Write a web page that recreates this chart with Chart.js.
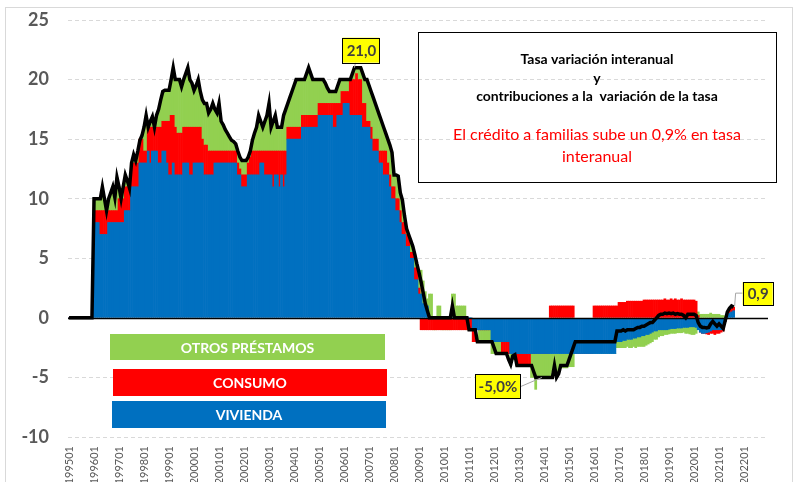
<!DOCTYPE html>
<html>
<head>
<meta charset="utf-8">
<script src="https://cdn.jsdelivr.net/npm/chart.js@4.4.1/dist/chart.umd.min.js"></script>
<style>
  html, body { margin: 0; padding: 0; background: #fff; overflow: hidden; }
  #wrap { width: 799px; height: 482px; overflow: hidden; }
</style>
</head>
<body>
<div id="wrap"><canvas id="grafico" width="799" height="495"></canvas></div>
<script>
// Categorías mensuales 199501 ... 202212
const anios = Array.from({ length: 28 }, (_, i) => 1995 + i)
const mesesNum = ['01','02','03','04','05','06','07','08','09','10','11','12']
const meses = anios.flatMap(a => mesesNum.map(m => a + m))

const yTicks = [-10, -5, 0, 5, 10, 15, 20, 25]

// Contribución vivienda (pp)
const vivienda = [
  0,0,0,0,0,0,0,0,0,0,0,0,                              // 1995
  8,8,8,7,7,7,7,8,8,8,8,8,                              // 1996
  8,8,8,9,9,9,11,11,11,11,13,13,                        // 1997
  13,13,14,13,14,14,14,13,13,14,14,13,                  // 1998
  12,12,13,12,12,12,12,13,13,13,12,12,                  // 1999
  13,13,13,13,13,12,12,12,12,12,13,13,                  // 2000
  13,13,13,13,13,13,13,13,13,12,12,11,                  // 2001
  11,11,12,12,12,12,12,12,13,13,12,12,                  // 2002
  12,12,11,12,12,11,12,11,12,15,15,15,                  // 2003
  15,15,15,15,16,16,16,16,16,16,16,16,                  // 2004
  17,17,17,17,17,17,17,16,16,17,17,17,                  // 2005
  18,18,18,17,17,17,17,17,17,16,16,16,                  // 2006
  16,15,14,14,14,13,13,12,12,12,11,10,                  // 2007
  10,9,9,8,7,7,6,6,5,5,3.2,3.2,                         // 2008
  2,2,1.2,1.2,1,0,0,0,0,0,0,0,                          // 2009
  0,0,0,0,0,0,0,0,0,0,0,0,                              // 2010
  0,0,-1,-1,-1,-1,-1,-1,-1,-1,-1,-2,                    // 2011
  -2,-2,-2,-2,-2,-2,-2,-2,-3,-3,-3,-3,                  // 2012
  -3,-3,-3,-3,-3,-3,-3,-3,-3,-3,-3,-3,                  // 2013
  -3,-3,-3,-3,-3,-3,-3,-3,-3,-3,-3,-3,                  // 2014
  -3,-3,-3,-3,-3,-3,-3,-3,-3,-3,-3,-3,                  // 2015
  -3,-3,-3,-3,-3,-3,-3,-3,-3,-3,-3,-2,                  // 2016
  -2,-2,-1.9,-1.9,-1.8,-1.8,-1.8,-1.7,-1.7,-1.6,-1.6,-1.5,          // 2017
  -1.5,-1.4,-1.4,-1.3,-1.2,-1.1,-1.1,-1.0,-1.0,-1.0,-1.0,-1.0,      // 2018
  -0.95,-0.9,-0.9,-0.9,-0.85,-0.85,-0.85,-0.8,-0.8,-0.8,-0.75,-0.75, // 2019
  -0.75,-0.8,-1.0,-1.2,-1.3,-1.3,-1.25,-1.2,-1.1,-1.0,-1.0,-1.0,    // 2020
  -1.0,-1.0,-0.9,-0.3,0.2,0.4,0.5,0.6                               // 2021
]

// Contribución consumo (pp)
const consumo = [
  0,0,0,0,0,0,0,0,0,0,0,0,                              // 1995
  1,1,1,2,2,2,2,1,1,1,1,1,                              // 1996
  2,2,2,2,2,2,2,2,2,2,2,2,                              // 1997
  1,1,2,3,2,2,2,3,3,2.5,2.5,3.5,                        // 1998
  4.5,5,4,4,3.5,3.5,3.5,3,3,3,4,4,                      // 1999
  3,3,3,3,2,2.5,2.5,2,2,2,1,1,                          // 2000
  1,1,1,1,1,1,1,1,1,1,0.5,1,                            // 2001
  1,1,1,1.5,2,2,2,2,1,1,2,2,                            // 2002
  2,2,3,2,2,3,2,3,2,1,1,1,                              // 2003
  1,1,1,1,1,1,1,1,1,1,1,1,                              // 2004
  1,1,1,1,1,1,1,2,2,1,1,2,                              // 2005
  1,1,1,3,3,3,3.5,3,3,2,2,0.5,                          // 2006
  0.5,1,1,1,1,1,1,2,2,1,1,1,                            // 2007
  1,1,1,1,1,1,1,1,0.5,0.5,1,1,                          // 2008
  0.5,-1,-1,-1,-1,-1,-1,-1,-1,-1,-1,-1,                 // 2009
  -1,-1,-1,-1,-1,-1,-1,-1,-1,-1,-1,-1,                  // 2010
  -1,-1,-1,-1,0,0,0,0,0,0,0,0,                          // 2011
  0,0,0,0,-1,-1,-1,-1,0,0,0,-1,                         // 2012
  -1,-1,-1,-1,-1,-1,0,0,0,0,0,0,                        // 2013
  0,0,0,1,1,1,1,1,1,1,1,1,                              // 2014
  1,1,1,0,0,0,0,0,0,0,0,0,                              // 2015
  1,1,1,1,1,1,1,1,1,1,1,1,                              // 2016
  1.3,1.3,1.3,1.3,1.4,1.4,1.4,1.4,1.4,1.4,1.4,1.4,      // 2017
  1.5,1.5,1.5,1.5,1.5,1.5,1.5,1.5,1.5,1.5,1.6,1.5,      // 2018
  1.5,1.6,1.5,1.6,1.5,1.5,1.6,1.5,1.5,1.5,1.5,1.5,      // 2019
  1.5,1.4,0.2,0,0,0,-0.1,-0.2,-0.2,-0.3,-0.4,-0.3,      // 2020
  -0.3,-0.2,-0.2,0,0.2,0.3,0.3,0.3                      // 2021
]

// Contribución otros préstamos (pp)
const otros = [
  0,0,0,0,0,0,0,0,0,0,0,0,                              // 1995
  1,1,1,1,2,1,0,1,1.5,2,1.1,2.8,                        // 1996
  1,0,1,1,0.5,0,0,0.7,0.2,1,0,0.3,                      // 1997
  2,3,0,0.5,0.9,0,1,1.5,2.3,2.5,2.6,2.6,                // 1998
  2.6,3,4,4,4.5,4.5,3.9,4,4.5,5,4,3.7,                  // 1999
  3.1,3.5,4,3,3.3,3.5,3.5,3.2,3.5,4,3.5,3.2,            // 2000
  4,2.5,2.2,1.8,1.5,1.2,0.9,0.8,0.6,1,1,1.2,            // 2001
  1.2,1.2,0.5,0.5,0.9,1.5,2,3,2.5,2,2.5,3,              // 2002
  4,2,2.5,3,2,2,2,3,3.5,2,2.5,3,                        // 2003
  3.5,4,4,4,3,3,3.5,4,3.5,3,3,3,                        // 2004
  2,2,2,1.7,1.3,1,1,1,1,1.5,2,1,                        // 2005
  1,1,1,0,0.5,1,0.5,1,1,2.5,2,3.5,                      // 2006
  3,3,3.5,3,2.5,3,2.5,2,1.5,2,2.5,2.9,                  // 2007
  1,2,1.9,1.5,1.9,0.6,0.5,0,1,0.5,1.1,0.3,              // 2008
  1.3,2,1.9,1,0.6,2,2,0,0,1,1,0,                        // 2009
  0,0,0,0,2,2,1,1,1,1,1,0,                              // 2010
  0,0,0,0,0,-1,-1,-1,-1,-1,-1,-1,                       // 2011
  -1,-1,-1,-1,0,0,0,0,-1,-0.5,-0.5,0,                   // 2012
  0,0,0,0,0,0,-2,-2,-3,-2,-2,-2,                        // 2013
  -1.9,-1.9,-1.9,-1.9,-1.5,-1.5,-1.5,-1.5,-1.2,-1.2,-1.2,-1.2,      // 2014
  -1.1,-1.1,-1.1,0,0,0,0,0,0,0,0,0,                     // 2015
  0,0,0,0,0,0,0,0,0,0,0,-0.5,                           // 2016
  -0.5,-0.5,-0.6,-0.6,-0.6,-0.7,-0.7,-0.7,-0.8,-0.8,-0.8,-0.9,      // 2017
  -0.9,-0.9,-0.8,-0.8,-0.8,-0.7,-0.7,-0.6,-0.5,-0.5,-0.4,-0.4,      // 2018
  -0.4,-0.4,-0.4,-0.4,-0.4,-0.4,-0.4,-0.4,-0.5,-0.5,-0.6,-0.65,     // 2019
  -0.65,-0.5,0.3,0.3,0.3,0.3,0.3,0.3,0.4,0.3,0.3,0.3,   // 2020
  0.3,0.2,0.2,0.1,0,0,0,0                               // 2021
]

// Tasa de variación interanual total (%)
const total = [
  0,0,0,0,0,0,0,0,0,0,0,0,                                        // 1995
  10,10,10,10,11,10,9,10,10.5,11,10.1,11.8,                       // 1996
  11,10,11,12,11.5,10.9,13,13.7,13.2,14,14.9,15.3,                // 1997
  16,17,16,16.5,16.9,16,17,17.5,18.3,19,19.1,19.1,                // 1998
  19.1,20,21,20,20,20,19.4,20,20.5,21,20,19.7,                    // 1999
  19.1,19.5,20,19,18.3,18,18,17.2,17.5,18,17.5,17.2,              // 2000
  18,16.5,16.2,15.8,15.5,15.2,14.9,14.8,14.6,14,13.5,13.2,        // 2001
  13.2,13.2,13.5,14,14.9,15.5,16,17,16.5,16,16.5,17,              // 2002
  18,16,16.5,17,16,16,16,17,17.5,18,18.5,19,                      // 2003
  19.5,20,20,20,20,20,20.5,21,20.5,20,20,20,                      // 2004
  20,20,20,19.7,19.3,19,19,19,19,19.5,20,20,                      // 2005
  20,20,20,20,20.5,21,21,21,21,20.5,20,20,                        // 2006
  19.5,19,18.5,18,17.5,17,16.5,16,15.5,15,14.5,13.9,              // 2007
  12,12,11.9,10.5,9.9,8.6,7.5,7,6.5,6,5.3,4.5,                    // 2008
  3.8,3,2.1,1.2,0.6,0,0,0,0,0,0,0,                                // 2009
  0,0,0,0,1,0,0,0,0,0,0,0,                                        // 2010
  -1,-1,-1,-1,-2,-2,-2,-2,-2,-2,-2,-2,                            // 2011
  -2.5,-3,-3,-3,-3,-3,-3,-3.5,-3.9,-3.2,-3.1,-4,                  // 2012
  -4,-4,-4,-4,-4,-4,-4,-4.5,-5,-5,-5,-5,                          // 2013
  -5,-5,-5,-5,-5,-4,-5,-4.7,-4,-4,-4,-4,                          // 2014
  -3.5,-3,-2.5,-2,-2,-2,-2,-2,-2,-2,-2,-2,                        // 2015
  -2,-2,-2,-2,-2,-2,-2,-2,-2,-2,-2,-1.1,                          // 2016
  -1.1,-1.1,-1.0,-1.1,-1.0,-1.0,-1.0,-1.0,-0.9,-0.8,-0.8,-0.7,    // 2017
  -0.7,-0.6,-0.5,-0.4,-0.4,-0.2,0,0.2,0.3,0.3,0.4,0.35,           // 2018
  0.4,0.35,0.4,0.3,0.35,0.3,0.3,0.2,0,0.3,0.3,0.3,                // 2019
  0.3,0.2,-0.4,-0.7,-0.8,-0.8,-0.85,-0.8,-0.5,-0.3,-0.5,-0.7,     // 2020
  -0.5,-0.7,-0.9,-0.2,0.5,0.8,1.0,0.9                             // 2021
]

// Etiquetas destacadas: índice del mes y texto
const idxMax = 137, txtMax = '21,0'
const idxMin = 227, txtMin = '-5,0%'
const idxUlt = total.length - 1, txtUlt = '0,9'

const FUENTE = 'Lato, "Open Sans", "Liberation Sans", sans-serif'
Chart.defaults.font.family = FUENTE

const W = 799, H = 495
const AREA = { left: 68, right: 768, top: 20, bottom: 437 }

// Fondo y marco exterior
const marcoPlugin = {
  id: 'marco',
  beforeDraw(chart) {
    const c = chart.ctx
    c.save()
    c.fillStyle = '#fff'
    c.fillRect(0, 0, W, H)
    c.strokeStyle = '#d9d9d9'
    c.lineWidth = 1
    c.strokeRect(5.5, 7.5, 787, 500)
    c.restore()
  },
  // línea de cero por encima de las barras y por debajo de la tasa total
  beforeDatasetDraw(chart, args) {
    if (args.index !== 3) return
    const c = chart.ctx
    const y = Math.round(chart.scales.y.getPixelForValue(0)) + 0.5
    c.save()
    c.strokeStyle = '#000'
    c.lineWidth = 1.5
    c.beginPath()
    c.moveTo(chart.chartArea.left, y)
    c.lineTo(chart.chartArea.right, y)
    c.stroke()
    c.restore()
  }
}

// Cuadro de texto, leyenda en bloques y etiquetas amarillas
const anotPlugin = {
  id: 'anotaciones',
  afterDraw(chart) {
    const c = chart.ctx
    const xs = chart.scales.x, ys = chart.scales.y
    c.save()

    // cuadro de título
    c.strokeStyle = '#000'
    c.lineWidth = 1
    c.strokeRect(418.5, 32.5, 358, 150)
    c.fillStyle = '#000'
    c.textAlign = 'center'
    c.textBaseline = 'middle'
    c.font = 'bold 14px ' + FUENTE
    c.fillText('Tasa variación interanual', 597, 59)
    c.fillText('y', 597, 78)
    c.fillText('contribuciones a la  variación de la tasa', 597, 96)
    c.fillStyle = '#ff0000'
    c.font = '16px ' + FUENTE
    c.fillText('El crédito a familias sube un 0,9% en tasa', 597, 135)
    c.fillText('interanual', 597, 157)

    // leyenda en bloques de color
    const ds = chart.data.datasets
    const bloques = [
      { d: ds[2], x: 110, y: 334, w: 275, h: 26 },
      { d: ds[1], x: 113, y: 369, w: 274, h: 27 },
      { d: ds[0], x: 112, y: 401, w: 274, h: 27 },
    ]
    c.font = 'bold 14px ' + FUENTE
    bloques.forEach(b => {
      c.fillStyle = b.d.backgroundColor
      c.fillRect(b.x, b.y, b.w, b.h)
      c.fillStyle = '#fff'
      c.fillText(b.d.label, b.x + b.w / 2, b.y + b.h / 2 + 1)
    })

    // etiquetas amarillas
    const caja = (x, y, w, h, txt) => {
      c.fillStyle = '#ffff00'
      c.fillRect(x, y, w, h)
      c.strokeStyle = '#000'
      c.lineWidth = 1
      c.strokeRect(Math.round(x) + 0.5, Math.round(y) + 0.5, w, h)
      c.fillStyle = '#404040'
      c.font = 'bold 15px ' + FUENTE
      c.fillText(txt, x + w / 2 + 0.5, y + h / 2 + 1)
    }
    const guia = pts => {
      c.strokeStyle = '#a6a6a6'
      c.lineWidth = 1
      c.beginPath()
      pts.forEach((p, i) => i ? c.lineTo(p[0], p[1]) : c.moveTo(p[0], p[1]))
      c.stroke()
    }

    let px = xs.getPixelForValue(idxMax), py = ys.getPixelForValue(total[idxMax])
    guia([[px + 1, py - 5], [px, py]])
    caja(px - 12, py - 30, 37, 25, txtMax)

    px = xs.getPixelForValue(idxMin); py = ys.getPixelForValue(total[idxMin])
    guia([[px - 21, py + 9], [px, py]])
    caja(px - 67, py - 3, 45, 24, txtMin)

    px = xs.getPixelForValue(idxUlt); py = ys.getPixelForValue(total[idxUlt])
    guia([[px + 1, py - 1], [px + 2, py - 14], [px + 9, py - 14]])
    caja(px + 9, py - 25, 30, 23, txtUlt)

    c.restore()
  }
}

const barra = (label, data, color) => ({
  type: 'bar',
  label,
  data,
  backgroundColor: color,
  borderWidth: 0,
  barPercentage: 1,
  categoryPercentage: 1,
  stack: 'contrib',
  order: 1,
})

new Chart(document.getElementById('grafico'), {
  data: {
    labels: meses,
    datasets: [
      barra('VIVIENDA', vivienda, '#0070c0'),
      barra('CONSUMO', consumo, '#ff0000'),
      barra('OTROS PRÉSTAMOS', otros, '#92d050'),
      {
        type: 'line',
        label: 'Total',
        data: total,
        borderColor: '#000',
        borderWidth: 3.5,
        pointRadius: 0,
        tension: 0,
        stack: 'total',
        order: 0,
      }
    ]
  },
  options: {
    responsive: false,
    animation: false,
    devicePixelRatio: 1,
    layout: { padding: { top: AREA.top, right: W - AREA.right, left: 0, bottom: 0 } },
    plugins: { legend: { display: false }, tooltip: { enabled: false } },
    scales: {
      x: {
        stacked: true,
        grid: { display: false, drawTicks: false },
        border: { display: false },
        ticks: {
          autoSkip: false,
          minRotation: 90,
          maxRotation: 90,
          padding: 9,
          color: '#595959',
          font: { size: 11 },
          callback(v) {
            const l = this.getLabelForValue(v)
            return l.slice(4) === '01' ? l : ''
          }
        },
        afterFit(s) { s.height = H - AREA.bottom }
      },
      y: {
        stacked: true,
        min: yTicks[0],
        max: yTicks[yTicks.length - 1],
        afterBuildTicks(s) { s.ticks = yTicks.map(v => ({ value: v })) },
        grid: {
          drawTicks: false,
          color: c => c.tick && c.tick.value === 0 ? 'rgba(0,0,0,0)' : '#d9d9d9',
          lineWidth: 1,
        },
        border: { display: false, dash: [4, 3] },
        ticks: {
          padding: 19,
          color: '#595959',
          font: { size: 18, weight: 'bold' },
        },
        // el padding de las etiquetas no debe empujar el área del gráfico
        afterFit(s) {
          s.width = AREA.left
          s.paddingTop = 0
          s.paddingBottom = 0
        }
      }
    }
  },
  plugins: [marcoPlugin, anotPlugin]
})
</script>
</body>
</html>
